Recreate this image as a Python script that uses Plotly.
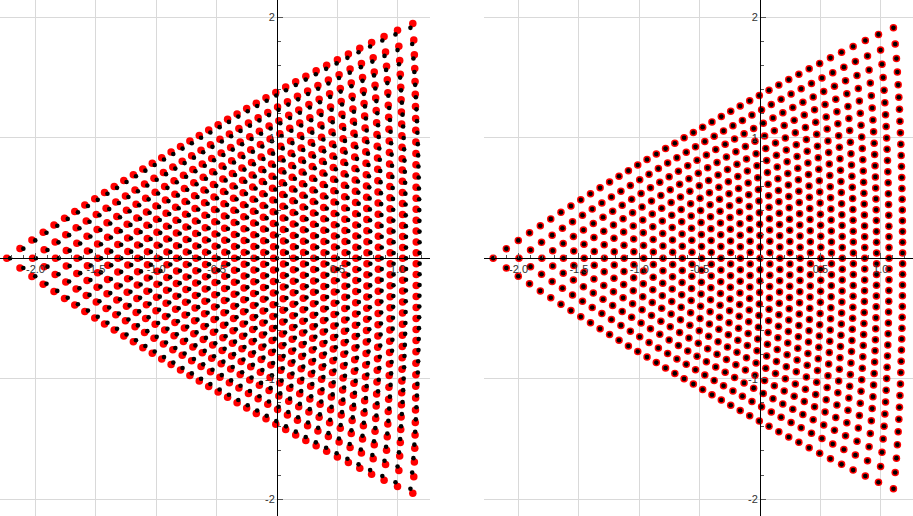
import numpy as np
import plotly.graph_objects as go

# Nodes per edge of the zero array (zeros of Q_n, degree n(n+1)/2)
nodes_per_edge = 40
# Corner radius of the drawn zero array (left corner on the negative real axis)
corner_radius = 2.21
# Displacement of the first-order approximations (left panel)
shift_c = -0.028
shift_yy = 0.013
shift_y = 0.019

# Axis ticks
x_ticks = [-2.0, -1.5, -1.0, -0.5, 0.5, 1.0]
x_tick_text = ["-2.0", "-1.5", "-1.0", "-0.5", "0.5", "1.0"]
y_ticks = [-2, -1, 1, 2]
y_tick_text = ["-2", "-1", "1", "2"]


def start_lattice(n):
    pts = []
    for i in range(n):
        for j in range(i + 1):
            pts.append(complex(-1 + 1.5 * i / (n - 1), (2 * j - i) / (n - 1) * np.sqrt(3) / 2))
    return np.array(pts)


def yv_zeros(n_max):
    """Zeros of the Yablonskii-Vorob'ev polynomial Q_n_max.
    Q_{m+1} Q_{m-1} = Q_m^2 (z + 4 sum_k (z - a_k)^-2), a_k the zeros of Q_m;
    the zeros of Q_{m+1} are found with Aberth iterations."""
    prev, cur = np.zeros(0, complex), np.zeros(1, complex)
    rad_prev, rad_cur = 0.0, 0.0
    for m in range(1, n_max):
        a, b = cur, prev
        if m == 1:
            r_guess = 1.6
        elif m == 2:
            r_guess = 2 * rad_cur - rad_prev
        else:
            r_guess = rad_cur * ((m + 1) / m) ** (2 / 3)
        z = start_lattice(m + 1) * r_guess * (1 + 1e-7j)
        for _ in range(400):
            inv = 1.0 / (z[:, None] - a[None, :])
            inv2 = inv * inv
            s1 = inv.sum(1)
            s2 = inv2.sum(1)
            s3 = (inv2 * inv).sum(1)
            g = z + 4 * s2
            gp = 1 - 8 * s3
            sb = (1.0 / (z[:, None] - b[None, :])).sum(1) if len(b) else 0.0
            dz = z[:, None] - z[None, :]
            np.fill_diagonal(dz, 1.0)
            invz = 1.0 / dz
            np.fill_diagonal(invz, 0.0)
            sz = invz.sum(1)
            # Aberth correction written as g / (g' + g * (...)) so an exact zero of g gives w = 0
            w = g / (gp + g * (2 * s1 - sb - sz))
            w = np.where(np.isfinite(w), w, 0.0)
            z = z - w
            if np.abs(w).max() < 1e-11 * r_guess:
                break
        prev, cur = cur, z
        rad_prev, rad_cur = rad_cur, -z.real.min()
    return cur


zeros = yv_zeros(nodes_per_edge)
zs = zeros / (-zeros.real.min()) * corner_radius
bx, by = zs.real, zs.imag
rx_left = bx + shift_c + shift_yy * by ** 2
ry_left = by + shift_y * by

W, H = 913, 516
y_range = [-2.14, 2.145]
dom_left = [0.0, 430 / W]
dom_right = [484 / W, 1.0]

fig = go.Figure()

red_size, black_size = 7.5, 4.6
fig.add_trace(go.Scatter(x=rx_left, y=ry_left, mode="markers", xaxis="x", yaxis="y",
                         marker=dict(color="#ff0000", size=red_size, line=dict(width=0)),
                         hoverinfo="skip", showlegend=False))
fig.add_trace(go.Scatter(x=bx, y=by, mode="markers", xaxis="x", yaxis="y",
                         marker=dict(color="#000000", size=black_size, line=dict(width=0)),
                         hoverinfo="skip", showlegend=False))
fig.add_trace(go.Scatter(x=bx, y=by, mode="markers", xaxis="x2", yaxis="y2",
                         marker=dict(color="#ff0000", size=red_size, line=dict(width=0)),
                         hoverinfo="skip", showlegend=False))
fig.add_trace(go.Scatter(x=bx, y=by, mode="markers", xaxis="x2", yaxis="y2",
                         marker=dict(color="#000000", size=black_size, line=dict(width=0)),
                         hoverinfo="skip", showlegend=False))

tick_font = dict(family="Liberation Sans, Arial, sans-serif", size=11, color="#333333")
minor_x = dict(tickmode="linear", tick0=0, dtick=0.1, ticks="inside", ticklen=3,
               tickcolor="#555555", showgrid=False)
minor_y = dict(tickmode="linear", tick0=0, dtick=0.2, ticks="inside", ticklen=3,
               tickcolor="#555555", showgrid=False)


def xaxis_cfg(domain, rng):
    return dict(domain=domain, range=rng, anchor="free", position=1 - 258.3 / H,
                tickmode="array", tickvals=x_ticks, ticktext=x_tick_text,
                ticks="inside", ticklen=5, tickcolor="#555555", showline=True,
                linecolor="#000000", linewidth=1, showgrid=True, gridcolor="#d9d9d9",
                gridwidth=1, zeroline=False, tickfont=tick_font, minor=minor_x,
                fixedrange=True)


def yaxis_cfg(pos):
    return dict(domain=[0, 1], range=y_range, anchor="free", position=pos,
                tickmode="array", tickvals=y_ticks, ticktext=y_tick_text,
                ticks="inside", ticklen=5, tickcolor="#555555", showline=True,
                linecolor="#000000", linewidth=1, showgrid=True, gridcolor="#d9d9d9",
                gridwidth=1, zeroline=False, tickfont=tick_font, minor=minor_y,
                fixedrange=True)


fig.update_layout(
    width=W, height=H,
    margin=dict(l=0, r=0, t=0, b=0),
    paper_bgcolor="white", plot_bgcolor="white",
    xaxis=xaxis_cfg(dom_left, [-2.294, 1.267]),
    yaxis=yaxis_cfg(277 / W),
    xaxis2=xaxis_cfg(dom_right, [-2.286, 1.267]),
    yaxis2=yaxis_cfg(760 / W),
    showlegend=False,
)

fig.write_html("out.html")
